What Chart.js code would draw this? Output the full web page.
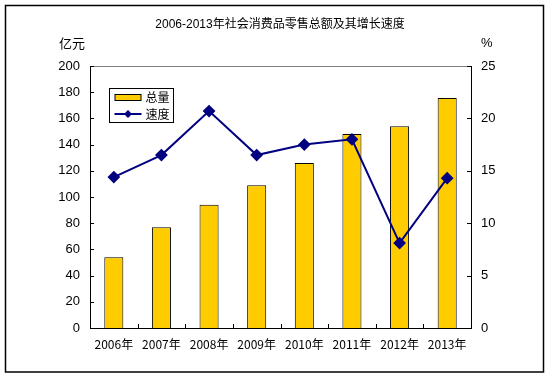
<!DOCTYPE html>
<html>
<head>
<meta charset="utf-8">
<script src="https://cdn.jsdelivr.net/npm/chart.js@4/dist/chart.umd.min.js"></script>
<style>
html,body{margin:0;padding:0;background:#fff;}
canvas{display:block;}
</style>
</head>
<body>
<canvas id="c" width="552" height="378"></canvas>
<script>
const categories = ['2006年','2007年','2008年','2009年','2010年','2011年','2012年','2013年'];
const totalValues = [54, 77, 94, 109, 126, 148, 154, 175.5];
const growthValues = [14.4, 16.5, 20.7, 16.5, 17.5, 18.0, 8.1, 14.3];
const leftTicks = [0,20,40,60,80,100,120,140,160,180,200];
const rightTicks = [0,5,10,15,20,25];
const titleText = '2006-2013年社会消费品零售总额及其增长速度';
const leftUnit = '亿元';
const rightUnit = '%';
const seriesNames = ['总量','速度'];

const BAR_COLOR = '#FFCC00';
const LINE_COLOR = '#000080';
const LATIN = '"Liberation Sans", "Noto Sans CJK SC", sans-serif';
const CJK = '"Noto Sans CJK SC", sans-serif';

const decor = {
  id: 'decor',
  beforeDraw(chart) {
    const ctx = chart.ctx;
    ctx.save();
    ctx.fillStyle = '#fff';
    ctx.fillRect(0, 0, chart.width, chart.height);
    ctx.strokeStyle = '#000';
    ctx.lineWidth = 1.5;
    ctx.strokeRect(5.5, 5.5, 538, 366.5);
    ctx.restore();
  },
  afterDraw(chart) {
    const ctx = chart.ctx;
    const a = chart.chartArea;
    const x = chart.scales.x, y = chart.scales.y, y1 = chart.scales.y1;
    ctx.save();
    // grey top edge
    ctx.strokeStyle = '#808080';
    ctx.lineWidth = 1;
    ctx.beginPath();
    ctx.moveTo(a.left, Math.round(a.top) + 0.5);
    ctx.lineTo(a.right, Math.round(a.top) + 0.5);
    ctx.stroke();
    // inward ticks
    ctx.strokeStyle = '#000';
    ctx.beginPath();
    leftTicks.forEach(v => {
      const py = Math.round(y.getPixelForValue(v)) + 0.5;
      ctx.moveTo(a.left, py); ctx.lineTo(a.left + 4, py);
    });
    rightTicks.forEach(v => {
      const py = Math.round(y1.getPixelForValue(v)) + 0.5;
      ctx.moveTo(a.right, py); ctx.lineTo(a.right - 4, py);
    });
    for (let i = 1; i < categories.length; i++) {
      const px = Math.round((x.getPixelForValue(i - 1) + x.getPixelForValue(i)) / 2) + 0.5;
      ctx.moveTo(px, a.bottom); ctx.lineTo(px, a.bottom - 4);
    }
    ctx.stroke();
    // title & units
    ctx.fillStyle = '#000';
    ctx.textAlign = 'center';
    ctx.textBaseline = 'middle';
    ctx.font = '12px ' + LATIN;
    ctx.fillText(titleText, 280, 25);
    ctx.font = '13px ' + CJK;
    ctx.textAlign = 'left';
    ctx.fillText(leftUnit, 59, 43);
    ctx.font = '13px ' + LATIN;
    ctx.fillText(rightUnit, 481, 43);
    // legend
    const lx = a.left + 19.5, ly = a.top + 22.5, lw = 64, lh = 34;
    ctx.fillStyle = '#fff';
    ctx.fillRect(lx, ly, lw, lh);
    ctx.lineWidth = 1;
    ctx.strokeStyle = '#000';
    ctx.strokeRect(lx, ly, lw, lh);
    ctx.fillStyle = BAR_COLOR;
    ctx.fillRect(lx + 5.5, ly + 6, 26, 6);
    ctx.strokeRect(lx + 5.5, ly + 6, 26, 6);
    ctx.strokeStyle = LINE_COLOR;
    ctx.lineWidth = 2;
    ctx.beginPath();
    ctx.moveTo(lx + 5, ly + 25.5); ctx.lineTo(lx + 32, ly + 25.5);
    ctx.stroke();
    ctx.fillStyle = LINE_COLOR;
    const dx = lx + 18.5, dy = ly + 25.5, r = 4;
    ctx.beginPath();
    ctx.moveTo(dx, dy - r); ctx.lineTo(dx + r, dy); ctx.lineTo(dx, dy + r); ctx.lineTo(dx - r, dy); ctx.closePath();
    ctx.fill();
    ctx.fillStyle = '#000';
    ctx.font = '12px ' + CJK;
    ctx.textAlign = 'left';
    ctx.fillText(seriesNames[0], lx + 36, ly + 9);
    ctx.fillText(seriesNames[1], lx + 36, ly + 25.5);
    ctx.restore();
  }
};

new Chart(document.getElementById('c'), {
  data: {
    labels: categories,
    datasets: [
      {
        type: 'line',
        label: seriesNames[1],
        data: growthValues,
        yAxisID: 'y1',
        order: 0,
        borderColor: LINE_COLOR,
        backgroundColor: LINE_COLOR,
        borderWidth: 2,
        pointStyle: 'rectRot',
        pointRadius: 5,
        pointBackgroundColor: LINE_COLOR,
        pointBorderColor: LINE_COLOR,
        tension: 0
      },
      {
        type: 'bar',
        label: seriesNames[0],
        data: totalValues,
        yAxisID: 'y',
        order: 1,
        backgroundColor: BAR_COLOR,
        borderColor: '#000',
        borderWidth: 1,
        barPercentage: 0.4,
        categoryPercentage: 1
      }
    ]
  },
  options: {
    responsive: false,
    animation: false,
    devicePixelRatio: 1,
    layout: { padding: { top: 66, left: 0, right: 0, bottom: 0 } },
    plugins: { legend: { display: false }, title: { display: false }, tooltip: { enabled: false } },
    scales: {
      x: {
        offset: true,
        grid: { display: false, drawTicks: false },
        border: { display: true, color: '#000', width: 1 },
        ticks: { color: '#000', font: { family: CJK, size: 12 }, padding: 9, maxRotation: 0, autoSkip: false },
        afterFit(s) { s.height = 50; }
      },
      y: {
        position: 'left',
        min: 0, max: 200,
        grid: { display: false, drawTicks: false },
        border: { display: true, color: '#000', width: 1 },
        ticks: { stepSize: 20, color: '#000', font: { family: LATIN, size: 13 }, padding: 10 },
        afterFit(s) { s.width = 90; }
      },
      y1: {
        position: 'right',
        min: 0, max: 25,
        grid: { display: false, drawTicks: false },
        border: { display: true, color: '#000', width: 1 },
        ticks: { stepSize: 5, color: '#000', font: { family: LATIN, size: 13 }, padding: 10 },
        afterFit(s) { s.width = 81; }
      }
    }
  },
  plugins: [decor]
});
</script>
</body>
</html>
